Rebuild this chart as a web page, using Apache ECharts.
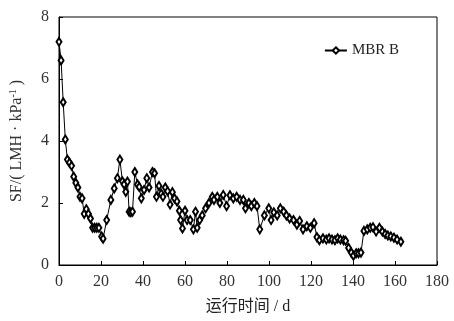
<!DOCTYPE html>
<html><head><meta charset="utf-8">
<script src="https://cdn.jsdelivr.net/npm/echarts@6/dist/echarts.min.js"></script>
<style>html,body{margin:0;padding:0;background:#fff}#c{width:454px;height:321px}</style>
</head><body><div id="c"></div>
<script>
const days = [0,1,2,3,4,5,6,7,8,9,10,11,12,13,14,15,16,17,18,19,20.3,21,22.7,24.7,26.3,27.8,29,30.2,31,31.8,32.6,33.4,34.2,35,36.1,37.4,38.2,39.2,40.5,41.8,42.9,44.5,45.5,46.4,47.6,48.7,49.5,50.6,51.7,52.9,54,55,56.2,57.3,57.9,58.8,60,61,62.5,64,65,65.8,67,68.2,69.8,71.4,73,73.8,75.4,76.6,78.2,79.8,81.4,83,84.6,86.2,87.8,88.8,90.4,91.6,93,94.3,95.6,97.8,99.9,101,102.3,103.9,105.4,107,108.3,109.8,111.7,113.3,114.6,116.2,118,119.7,121.5,122.8,124,125.7,127.3,128.6,130,131.4,132.7,134,135.5,136.5,137.9,139.2,140.2,141.5,142.6,143.8,145.2,146.8,148.2,149.5,151,152.6,154,155.3,156.6,158,159.5,161,162.8];
const sfValues = [7.2,6.6,5.25,4.05,3.4,3.3,3.2,2.85,2.65,2.5,2.2,2.15,1.65,1.8,1.65,1.5,1.2,1.2,1.2,1.2,0.92,0.85,1.45,2.1,2.47,2.8,3.4,2.7,2.6,2.36,2.69,1.72,1.7,1.72,3.0,2.6,2.52,2.15,2.42,2.8,2.5,3.0,2.96,2.2,2.55,2.3,2.2,2.5,2.38,1.95,2.35,2.15,2.05,1.75,1.45,1.18,1.75,1.45,1.45,1.15,1.72,1.2,1.45,1.6,1.83,2.0,2.2,2.1,2.2,2.0,2.26,1.9,2.25,2.15,2.2,2.1,2.1,1.83,2.0,1.9,2.0,1.9,1.15,1.6,1.83,1.45,1.7,1.6,1.83,1.72,1.6,1.5,1.45,1.3,1.42,1.15,1.25,1.2,1.35,0.9,0.8,0.86,0.82,0.86,0.82,0.8,0.86,0.82,0.8,0.78,0.55,0.4,0.3,0.38,0.38,0.4,1.1,1.15,1.2,1.22,1.08,1.2,1.08,1.0,0.95,0.92,0.88,0.82,0.75];
const xTicks = [0,20,40,60,80,100,120,140,160,180];
const yTicks = [0,2,4,6,8];
const seriesName = 'MBR B';

const serif = '"Liberation Serif", "Noto Sans CJK SC", serif';
const chart = echarts.init(document.getElementById('c'), null, {renderer:'canvas'});
chart.setOption({
  animation:false,
  backgroundColor:'#fff',
  grid:{left:58,right:17,top:17,bottom:56,show:true,borderColor:'#000',borderWidth:1},
  legend:{
    data:[seriesName], right:50, top:38, itemWidth:22, itemHeight:8, itemGap:7,
    textStyle:{fontFamily:serif,fontSize:15,color:'#222'}
  },
  xAxis:{
    type:'value', min:xTicks[0], max:xTicks[xTicks.length-1], interval:20,
    name:'运行时间 / d', nameLocation:'middle', nameGap:34,
    nameTextStyle:{fontFamily:serif,fontSize:16,color:'#222'},
    axisLine:{lineStyle:{color:'#000',width:1}},
    axisTick:{inside:true,length:4,lineStyle:{color:'#000'}},
    axisLabel:{fontFamily:serif,fontSize:16,color:'#333',margin:9},
    splitLine:{show:false}
  },
  yAxis:{
    type:'value', min:yTicks[0], max:yTicks[yTicks.length-1], interval:2,
    name:'{a|SF/( LMH · kPa}{s|-1}{a| )}', nameLocation:'middle', nameGap:33, nameRotate:90,
    nameTextStyle:{rich:{a:{fontFamily:serif,fontSize:16,color:'#333'},s:{fontFamily:serif,fontSize:10,color:'#333',verticalAlign:'top',padding:[0,0,8,0]}}},
    axisLine:{lineStyle:{color:'#000',width:1}},
    axisTick:{inside:true,length:4,lineStyle:{color:'#000'}},
    axisLabel:{fontFamily:serif,fontSize:16,color:'#333',margin:10},
    splitLine:{show:false}
  },
  series:[{
    name:seriesName, type:'line',
    data:days.map((d,i)=>[d,sfValues[i]]),
    symbol:'emptyDiamond', symbolSize:[5,8], showAllSymbol:true,
    lineStyle:{color:'#000',width:1},
    itemStyle:{color:'#000',borderColor:'#000',borderWidth:1}
  }]
});
</script></body></html>
